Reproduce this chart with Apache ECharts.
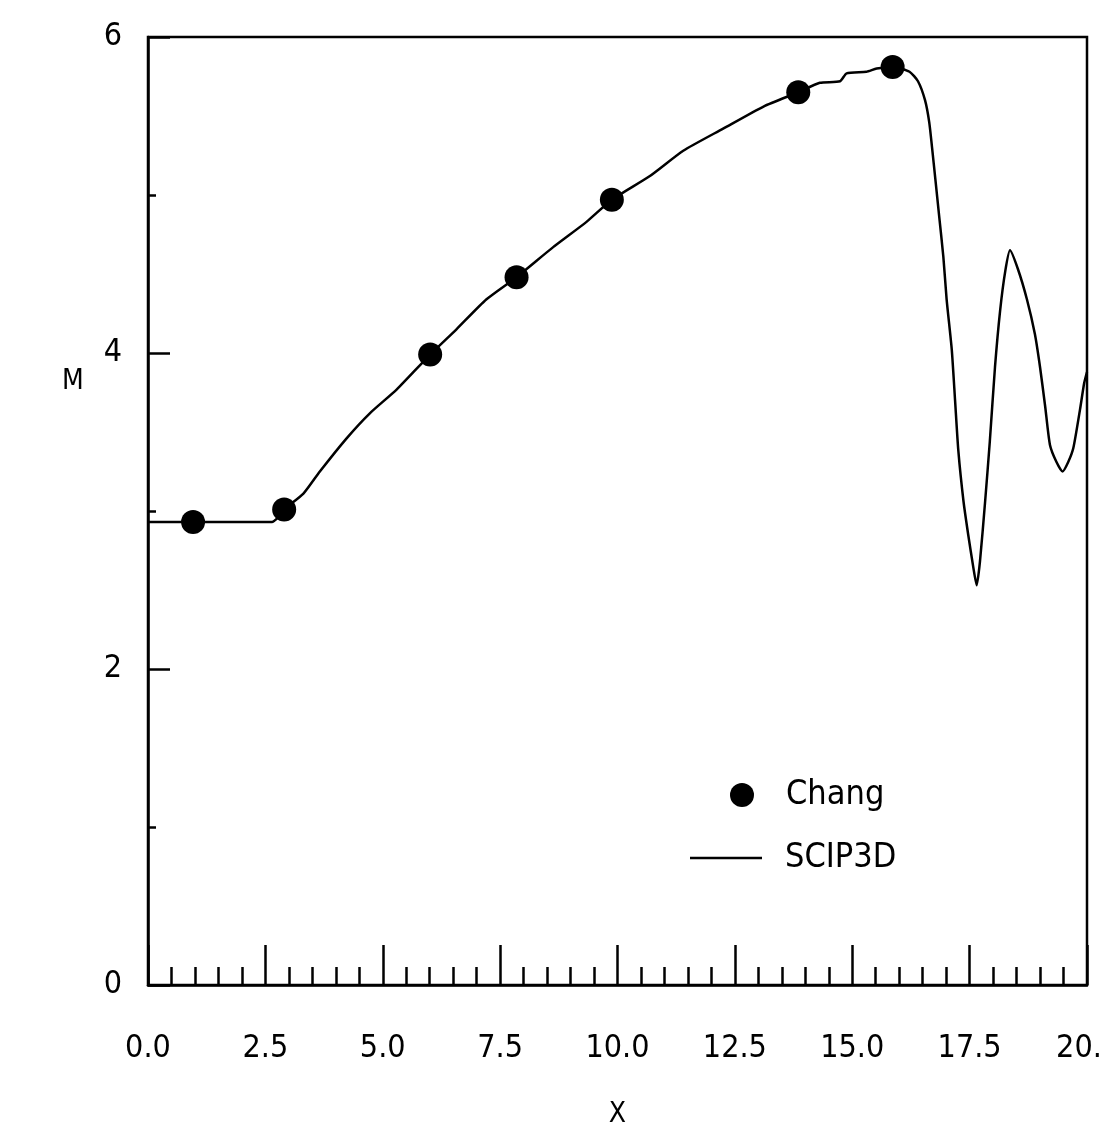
<!DOCTYPE html>
<html>
<head>
<meta charset="utf-8">
<script src="https://cdn.jsdelivr.net/npm/echarts@6/dist/echarts.min.js"></script>
<style>
html,body{margin:0;padding:0;background:#fff;overflow:hidden;}
#chart{width:1106px;height:1127px;}
</style>
</head>
<body>
<div id="chart"></div>
<script>
// Data
const changX = [0.96, 2.90, 6.01, 7.85, 9.88, 13.85, 15.86];
const changM = [2.93, 3.01, 3.99, 4.48, 4.97, 5.65, 5.81];

const scipX = [0.0, 2.64, 2.77, 2.90, 3.31, 3.66, 4.23, 4.73, 5.30, 6.01, 6.57, 7.21, 7.85, 8.63, 9.34, 9.88, 10.69, 11.40, 12.25, 13.11, 13.85, 14.31, 14.74, 14.88, 15.30, 15.52, 15.86, 16.22, 16.40, 16.55, 16.64, 16.70, 16.77, 16.85, 16.94, 17.01, 17.12, 17.19, 17.26, 17.37, 17.47, 17.58, 17.65, 17.72, 17.83, 17.93, 18.04, 18.15, 18.26, 18.36, 18.53, 18.72, 18.89, 19.00, 19.11, 19.21, 19.35, 19.48, 19.60, 19.71, 19.85, 19.94, 20.0];
const scipM = [2.93, 2.93, 2.96, 3.01, 3.11, 3.25, 3.46, 3.62, 3.77, 3.99, 4.15, 4.34, 4.48, 4.67, 4.83, 4.97, 5.12, 5.28, 5.42, 5.56, 5.65, 5.71, 5.72, 5.77, 5.78, 5.80, 5.81, 5.78, 5.72, 5.60, 5.46, 5.30, 5.10, 4.87, 4.61, 4.34, 4.02, 3.70, 3.38, 3.06, 2.85, 2.64, 2.53, 2.68, 3.06, 3.44, 3.91, 4.27, 4.52, 4.65, 4.53, 4.34, 4.12, 3.91, 3.66, 3.42, 3.31, 3.25, 3.31, 3.40, 3.64, 3.81, 3.88];

const xTickValues = [0, 2.5, 5, 7.5, 10, 12.5, 15, 17.5, 20];
const xTickLabels = ['0.0', '2.5', '5.0', '7.5', '10.0', '12.5', '15.0', '17.5', '20.'];
const yTickLabels = ['0', '2', '4', '6'];

const FONT = '"Liberation Sans Narrow", "DejaVu Sans Condensed", "Liberation Sans", sans-serif';

const chart = echarts.init(document.getElementById('chart'), null, {renderer: 'canvas', width: 1106, height: 1127});
chart.setOption({
  backgroundColor: '#ffffff',
  animation: false,
  grid: {
    left: 148, right: 19, top: 37, bottom: 142,
    containLabel: false, outerBoundsMode: 'none',
    show: true, borderColor: '#000', borderWidth: 2.5, backgroundColor: 'transparent'
  },
  xAxis: {
    type: 'value', min: 0, max: 20, interval: 2.5,
    name: 'X', nameLocation: 'middle', nameGap: 116,
    nameTextStyle: {color: '#000', fontSize: 28, fontFamily: FONT},
    axisLine: {show: true, onZero: false, lineStyle: {color: '#000', width: 2.5}},
    axisTick: {show: true, inside: true, length: 40, lineStyle: {color: '#000', width: 2.5}},
    minorTick: {show: true, splitNumber: 5, length: 18, lineStyle: {color: '#000', width: 2.5}},
    splitLine: {show: false},
    axisLabel: {
      margin: 48, color: '#000', fontSize: 32, fontFamily: FONT,
      formatter: function (v) {
        const i = xTickValues.indexOf(v);
        if (i < 0) return '';
        return i === xTickValues.length - 1 ? '{last|' + xTickLabels[i] + '}' : xTickLabels[i];
      },
      rich: {
        last: {color: '#000', fontSize: 32, fontFamily: FONT, padding: [0, 16, 0, 0]}
      }
    }
  },
  yAxis: {
    type: 'value', min: 0, max: 6, interval: 2,
    axisLine: {show: true, onZero: false, lineStyle: {color: '#000', width: 2.5}},
    axisTick: {show: true, inside: true, length: 22, lineStyle: {color: '#000', width: 2.5}},
    minorTick: {show: true, splitNumber: 2, length: 8, lineStyle: {color: '#000', width: 2.5}},
    splitLine: {show: false},
    axisLabel: {
      margin: 26, color: '#000', fontSize: 32, fontFamily: FONT,
      formatter: function (v) { return yTickLabels[Math.round(v / 2)] || ''; }
    }
  },
  graphic: [
    {
      type: 'text', left: 62, top: 368,
      style: {text: 'M', fill: '#000', fontSize: 28, fontFamily: FONT}
    }
  ],
  legend: [
    {
      data: [{name: 'Chang', icon: 'circle'}],
      left: 725, top: 773, itemWidth: 24, itemHeight: 24,
      textStyle: {color: '#000', fontSize: 34, fontFamily: FONT, padding: [0, 0, 0, 27]}
    },
    {
      data: [{name: 'SCIP3D', icon: 'rect', itemStyle: {color: '#000'}}],
      left: 685, top: 836, itemWidth: 72, itemHeight: 2.5,
      textStyle: {color: '#000', fontSize: 34, fontFamily: FONT, padding: [0, 0, 0, 18]}
    }
  ],
  series: [
    {
      name: 'SCIP3D', type: 'line', showSymbol: false, symbol: 'none',
      data: scipX.map((x, i) => [x, scipM[i]]),
      lineStyle: {color: '#000', width: 2.5},
      itemStyle: {color: '#000'},
      smooth: 0.2, z: 2
    },
    {
      name: 'Chang', type: 'scatter', symbol: 'circle', symbolSize: 24,
      data: changX.map((x, i) => [x, changM[i]]),
      itemStyle: {color: '#000', opacity: 1}, z: 3
    }
  ]
});
</script>
</body>
</html>
